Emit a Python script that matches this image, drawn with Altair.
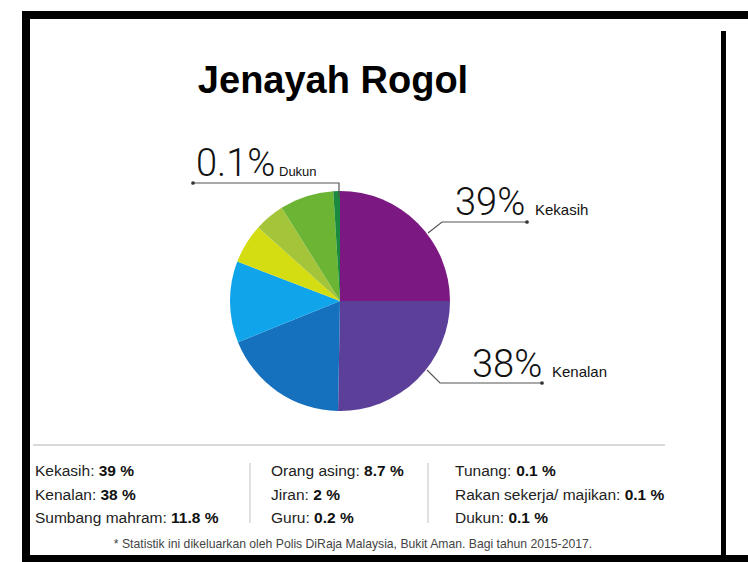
import altair as alt
import pandas as pd

# ---------------- data ----------------
title_text = "Jenayah Rogol"

# pie slices, clockwise from 12 o'clock (angles, degrees)
slice_names = ["Kekasih", "Kenalan", "Sumbang mahram", "Orang asing", "Jiran",
               "Guru", "Rakan sekerja/ majikan", "Dukun"]
slice_deg = [90, 91, 67, 43, 21, 16, 28.5, 3.5]
slice_colors = ["#7B1882", "#5B3F98", "#1570BE", "#10A5EA", "#D4DC12",
                "#A4C53A", "#6CB534", "#1A8A3E"]

# call-outs
call_pct = ["39%", "38%", "0.1%"]
call_name = ["Kekasih", "Kenalan", "Dukun"]

# bottom key
key_labels = ["Kekasih: ", "Kenalan: ", "Sumbang mahram: ",
              "Orang asing: ", "Jiran: ", "Guru: ",
              "Tunang: ", "Rakan sekerja/ majikan: ", "Dukun: "]
key_values = ["39 %", "38 %", "11.8 %", "8.7 %", "2 %", "0.2 %",
              "0.1 %", "0.1 %", "0.1 %"]
key_col = [0, 0, 0, 1, 1, 1, 2, 2, 2]
key_row = [0, 1, 2, 0, 1, 2, 0, 1, 2]

footnote = "* Statistik ini dikeluarkan oleh Polis DiRaja Malaysia, Bukit Aman. Bagi tahun 2015-2017."

# ---------------- layout / style ----------------
W, H = 748, 562
FONT = "Liberation Sans"
KEY_SIZE = 15.5
col_x = [35, 271, 455]
row_y = [476, 500, 523]

# Arial/Liberation Sans advance widths (per 1000 em)
_w = {" ": 278, ":": 278, "/": 278, ".": 278, "%": 889,
      "K": 667, "S": 667, "O": 778, "J": 500, "G": 778, "T": 611, "R": 722, "D": 722,
      "a": 556, "b": 556, "e": 556, "g": 556, "h": 556, "i": 222, "j": 222, "k": 500,
      "l": 222, "m": 833, "n": 556, "r": 333, "s": 500, "u": 556}


def text_w(s, size):
    return sum(_w.get(c, 556) for c in s) * size / 1000.0


pie_df = pd.DataFrame({"name": slice_names, "deg": slice_deg,
                       "idx": list(range(len(slice_names)))})

key_df = pd.DataFrame({"label": key_labels, "value": key_values,
                       "col": key_col, "row": key_row})
key_df["lx"] = [col_x[c] for c in key_df["col"]]
key_df["ly"] = [row_y[r] for r in key_df["row"]]
key_df["vx"] = key_df["lx"] + [text_w(s, KEY_SIZE) for s in key_df["label"]]

base = alt.Chart(pd.DataFrame({"a": [0]}))


def rect(x1, x2, y1, y2, color="black"):
    return base.mark_rect(color=color).encode(
        x=alt.value(x1), x2=alt.value(x2), y=alt.value(y1), y2=alt.value(y2))


def rule(x1, x2, y1, y2, color, width=1.0):
    return base.mark_rule(color=color, strokeWidth=width).encode(
        x=alt.value(x1), x2=alt.value(x2), y=alt.value(y1), y2=alt.value(y2))


def txt(s, x, y, size, weight="normal", font=FONT, align="left", color="#111"):
    return base.mark_text(text=s, fontSize=size, fontWeight=weight, font=font,
                          align=align, baseline="alphabetic", color=color).encode(
        x=alt.value(x), y=alt.value(y))


# frame
frame = [rect(22, W, 11, 19), rect(22, 30, 11, H), rect(22, W, 555, H),
         rect(721, 726, 31, 555)]

# pie
pie = alt.Chart(pie_df).mark_arc(outerRadius=110, stroke=None).encode(
    theta=alt.Theta("deg:Q", stack=True),
    color=alt.Color("name:N", scale=alt.Scale(domain=slice_names, range=slice_colors),
                    legend=None),
    order=alt.Order("idx:Q"),
    x=alt.value(340), y=alt.value(301))

# leader lines
lead_df = pd.DataFrame({
    "g": ["a", "a", "a", "b", "b", "b", "c", "c", "c"],
    "o": [0, 1, 2, 0, 1, 2, 0, 1, 2],
    "px": [428, 442, 527, 427, 440, 542, 339, 339, 193],
    "py": [233, 222, 222, 370, 383, 383, 198, 183, 183]})
leads = alt.Chart(lead_df).mark_line(color="#555", strokeWidth=1.2).encode(
    x=alt.X("px:Q", scale=None), y=alt.Y("py:Q", scale=None),
    detail="g:N", order="o:Q")
dots = alt.Chart(pd.DataFrame({"px": [527, 542, 193], "py": [222, 383, 183]})).mark_circle(
    color="#333", size=14, opacity=1).encode(
    x=alt.X("px:Q", scale=None), y=alt.Y("py:Q", scale=None))

BIG = 38
callouts = [
    txt(call_pct[0], 455, 215, BIG, weight=300, font="Roboto"),
    txt(call_name[0], 535, 215, 15),
    txt(call_pct[1], 472, 377, BIG, weight=300, font="Roboto"),
    txt(call_name[1], 552, 377, 15),
    txt(call_pct[2], 196, 176, BIG, weight=300, font="Roboto"),
    txt(call_name[2], 279, 176, 13),
]

title = txt(title_text, 333, 93, 38, weight="bold", align="center", color="#000")

# bottom key
sep = [rule(33, 665, 445, 445, "#cccccc", 1.5),
       rule(250, 250, 463, 523, "#cccccc", 1.2),
       rule(428, 428, 463, 523, "#cccccc", 1.2)]

key_lab = alt.Chart(key_df).mark_text(
    font=FONT, fontSize=KEY_SIZE, align="left", baseline="alphabetic", color="#222").encode(
    x=alt.X("lx:Q", scale=None), y=alt.Y("ly:Q", scale=None), text="label:N")
key_val = alt.Chart(key_df).mark_text(
    font=FONT, fontSize=KEY_SIZE, fontWeight="bold", align="left",
    baseline="alphabetic", color="#111").encode(
    x=alt.X("vx:Q", scale=None), y=alt.Y("ly:Q", scale=None), text="value:N")

foot = txt(footnote, 353, 548, 12.2, color="#444", align="center")

chart = alt.layer(*frame, pie, leads, dots, *callouts, title, *sep, key_lab, key_val, foot).properties(
    width=W, height=H, padding=0, autosize=alt.AutoSizeParams(type="none"),
    background="white"
).configure_view(stroke=None)

chart.save("out.html", embed_options={"renderer": "svg", "actions": False})
